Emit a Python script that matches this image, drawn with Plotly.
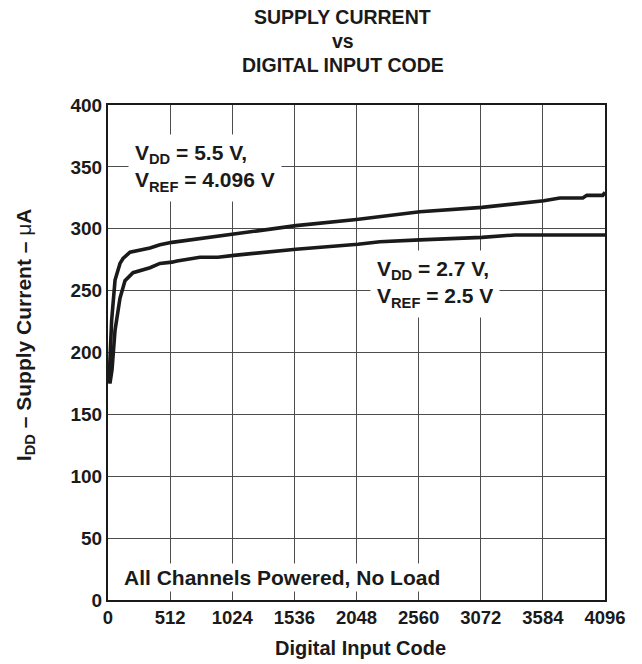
import plotly.graph_objects as go

# Data
code_55 = [8, 30, 58, 99, 124, 181, 346, 428, 527, 1038, 1549, 2048, 2570, 3082, 3592, 3724, 3913, 3946, 4078, 4096]
idd_55 = [175, 226, 258.6, 272, 276, 281, 284.5, 287, 289, 295.8, 302.5, 307.5, 313.8, 317.3, 322.6, 324.8, 324.8, 327, 327, 329.4]

code_27 = [16, 33, 58, 99, 140, 206, 346, 428, 527, 569, 758, 906, 1038, 1549, 2060, 2241, 2570, 3082, 3354, 4096]
idd_27 = [175, 186, 218, 244, 258, 264.5, 268.5, 272, 273, 274, 277, 277, 278.5, 283.5, 287.5, 289.5, 291, 293, 295, 295]

x_ticks = [0, 512, 1024, 1536, 2048, 2560, 3072, 3584, 4096]
y_ticks = [0, 50, 100, 150, 200, 250, 300, 350, 400]

title_lines = ["SUPPLY CURRENT", "vs", "DIGITAL INPUT CODE"]

FONT = "Liberation Sans, Arial, sans-serif"
INK = "#1a1a1a"

fig = go.Figure()
fig.add_trace(go.Scatter(x=code_55, y=idd_55, mode="lines",
                         line=dict(color=INK, width=3.6), showlegend=False))
fig.add_trace(go.Scatter(x=code_27, y=idd_27, mode="lines",
                         line=dict(color=INK, width=3.6), showlegend=False))

fig.update_layout(
    width=642, height=664,
    margin=dict(l=100, r=45, t=97, b=72),
    paper_bgcolor="white", plot_bgcolor="white",
    font=dict(family=FONT, color=INK, size=18),
)

fig.update_xaxes(range=[0, 4096], tickvals=x_ticks, ticktext=[f"<b>{v}</b>" for v in x_ticks],
                 showgrid=True, gridcolor="#4d4d4d", gridwidth=1,
                 showline=True, linecolor=INK, linewidth=2, mirror=True,
                 ticks="", zeroline=False, automargin=False,
                 tickfont=dict(size=18.5, family=FONT, color=INK))
fig.update_yaxes(range=[0, 400], tickvals=y_ticks, ticktext=[f"<b>{v}</b>" for v in y_ticks],
                 showgrid=True, gridcolor="#4d4d4d", gridwidth=1,
                 showline=True, linecolor=INK, linewidth=2, mirror=True,
                 ticks="", zeroline=False, automargin=False,
                 tickfont=dict(size=19, family=FONT, color=INK))

# Title lines
for txt, yy in zip(title_lines, [1.1778, 1.1293, 1.0808]):
    fig.add_annotation(x=0.472, y=yy, xref="paper", yref="paper", xanchor="center",
                       yanchor="middle", showarrow=False, text=f"<b>{txt}</b>",
                       font=dict(size=19.5, family=FONT, color=INK))

# Axis titles
fig.add_annotation(x=0.508, y=-0.097, xref="paper", yref="paper", xanchor="center",
                   yanchor="middle", showarrow=False, text="<b>Digital Input Code</b>",
                   font=dict(size=20, family=FONT, color=INK))
fig.add_annotation(x=-0.167, y=0.535, xref="paper", yref="paper", xanchor="center",
                   yanchor="middle", showarrow=False, textangle=-90,
                   text="<b>I<sub>DD</sub> – Supply Current – </b>μ<b>A</b>",
                   font=dict(size=21, family=FONT, color=INK))

ann_font = dict(size=21, family=FONT, color=INK)
fig.add_annotation(x=165, y=349, xref="x", yref="y", xanchor="left", yanchor="middle",
                   align="left", showarrow=False, bgcolor="white", borderpad=6,
                   text="<b>V<sub>DD</sub> = 5.5 V,</b><br><b>V<sub>REF</sub> = 4.096 V</b>",
                   font=ann_font)
fig.add_annotation(x=2159, y=255, xref="x", yref="y", xanchor="left", yanchor="middle",
                   align="left", showarrow=False, bgcolor="white", borderpad=6,
                   text="<b>V<sub>DD</sub> = 2.7 V,</b><br><b>V<sub>REF</sub> = 2.5 V</b>",
                   font=ann_font)
fig.add_annotation(x=107, y=18, xref="x", yref="y", xanchor="left", yanchor="middle",
                   align="left", showarrow=False, bgcolor="white", borderpad=2,
                   text="<b>All Channels Powered, No Load</b>", font=ann_font)

fig.write_html("out.html")
